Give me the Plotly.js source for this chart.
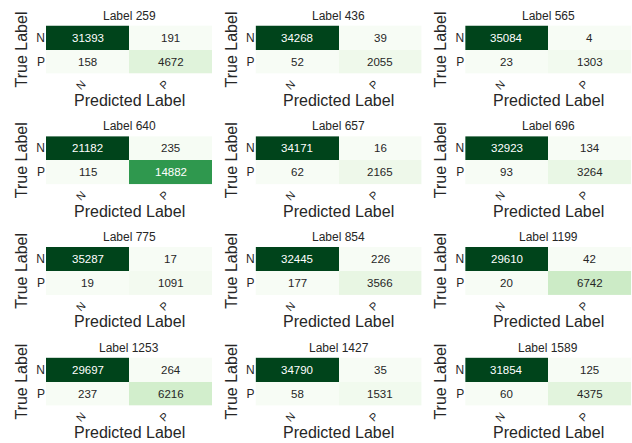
<!DOCTYPE html>
<html>
<head>
<meta charset="utf-8">
<script src="https://cdn.plot.ly/plotly-3.0.1.min.js"></script>
<style>
  html, body { margin: 0; padding: 0; background: #ffffff; }
  #chart { width: 632px; height: 443px; }
</style>
</head>
<body>
<div id="chart"></div>
<script>
// Confusion matrices for twelve labels: [TN, FP, FN, TP]
const labelIds = [259, 436, 565, 640, 657, 696, 775, 854, 1199, 1253, 1427, 1589];
const trueNeg  = [31393, 34268, 35084, 21182, 34171, 32923, 35287, 32445, 29610, 29697, 34790, 31854];
const falsePos = [191, 39, 4, 235, 16, 134, 17, 226, 42, 264, 35, 125];
const falseNeg = [158, 52, 23, 115, 62, 93, 19, 177, 20, 237, 58, 60];
const truePos  = [4672, 2055, 1303, 14882, 2165, 3264, 1091, 3566, 6742, 6216, 1531, 4375];

const predCats = ['N', 'P'];
const trueCats = ['N', 'P'];

// Matplotlib "Greens" colour map
const greens = [
  [0.0, '#f7fcf5'], [0.125, '#e5f5e0'], [0.25, '#c7e9c0'], [0.375, '#a1d99b'],
  [0.5, '#74c476'], [0.625, '#41ab5d'], [0.75, '#238b45'], [0.875, '#006d2c'],
  [1.0, '#00441b']
];

const W = 632, H = 443;
const nCols = 3;
const colLeft = 46, colStep = 209.6, panelW = 166;
const rowTop = 25.5, rowStep = 110.7, panelH = 48;
const fontFam = '"Liberation Sans", Arial, sans-serif';
const textDark = '#262626';

const data = [];
const layout = {
  width: W, height: H,
  margin: {l: 0, r: 0, t: 0, b: 0},
  paper_bgcolor: '#ffffff',
  plot_bgcolor: '#ffffff',
  showlegend: false,
  font: {family: fontFam, color: textDark},
  annotations: []
};

labelIds.forEach((id, i) => {
  const r = Math.floor(i / nCols), c = i % nCols;
  const n = i + 1;
  const xa = n === 1 ? 'x' : 'x' + n;
  const ya = n === 1 ? 'y' : 'y' + n;
  const xKey = n === 1 ? 'xaxis' : 'xaxis' + n;
  const yKey = n === 1 ? 'yaxis' : 'yaxis' + n;

  const z = [[trueNeg[i], falsePos[i]], [falseNeg[i], truePos[i]]];
  const flat = z.flat();
  const zmin = Math.min(...flat), zmax = Math.max(...flat);

  data.push({
    type: 'heatmap',
    x: predCats, y: trueCats, z: z,
    xaxis: xa, yaxis: ya,
    colorscale: greens, zmin: zmin, zmax: zmax,
    showscale: false, hoverinfo: 'skip'
  });

  // Cell annotations, light text on dark cells
  z.forEach((row, ri) => row.forEach((v, ci) => {
    const t = (v - zmin) / (zmax - zmin);
    layout.annotations.push({
      xref: xa, yref: ya, x: predCats[ci], y: trueCats[ri],
      text: String(v), showarrow: false,
      font: {size: 11.5, family: fontFam, color: t > 0.5 ? '#ffffff' : textDark}
    });
  }));

  const left = colLeft + c * colStep;
  const top = rowTop + r * rowStep;
  const x0 = left / W, x1 = (left + panelW) / W;
  const y1 = 1 - top / H, y0 = 1 - (top + panelH) / H;

  layout[xKey] = {
    domain: [x0, x1], anchor: ya,
    type: 'category', showgrid: false, zeroline: false, showline: false,
    ticks: '', tickangle: -45, ticklabelstandoff: 1, ticklabelshift: -5,
    tickfont: {size: 11, color: textDark}
  };
  layout[yKey] = {
    domain: [y0, y1], anchor: xa,
    type: 'category', autorange: 'reversed',
    showgrid: false, zeroline: false, showline: false,
    ticks: '', tickfont: {size: 12, color: textDark},
    title: {text: 'True Label', font: {size: 16, color: textDark}, standoff: 4}
  };

  // Panel heading
  layout.annotations.push({
    xref: 'paper', yref: 'paper',
    x: (x0 + x1) / 2, xanchor: 'center',
    y: y1, yanchor: 'bottom', yshift: 1,
    text: 'Label ' + id, showarrow: false,
    font: {size: 12, family: fontFam, color: textDark}
  });

  // x-axis heading under the rotated tick labels
  layout.annotations.push({
    xref: 'paper', yref: 'paper',
    x: (x0 + x1) / 2, xanchor: 'center',
    y: y0, yanchor: 'middle', yshift: -27,
    text: 'Predicted Label', showarrow: false,
    font: {size: 16, family: fontFam, color: textDark}
  });
});

Plotly.newPlot('chart', data, layout, {staticPlot: true, displayModeBar: false});
</script>
</body>
</html>
